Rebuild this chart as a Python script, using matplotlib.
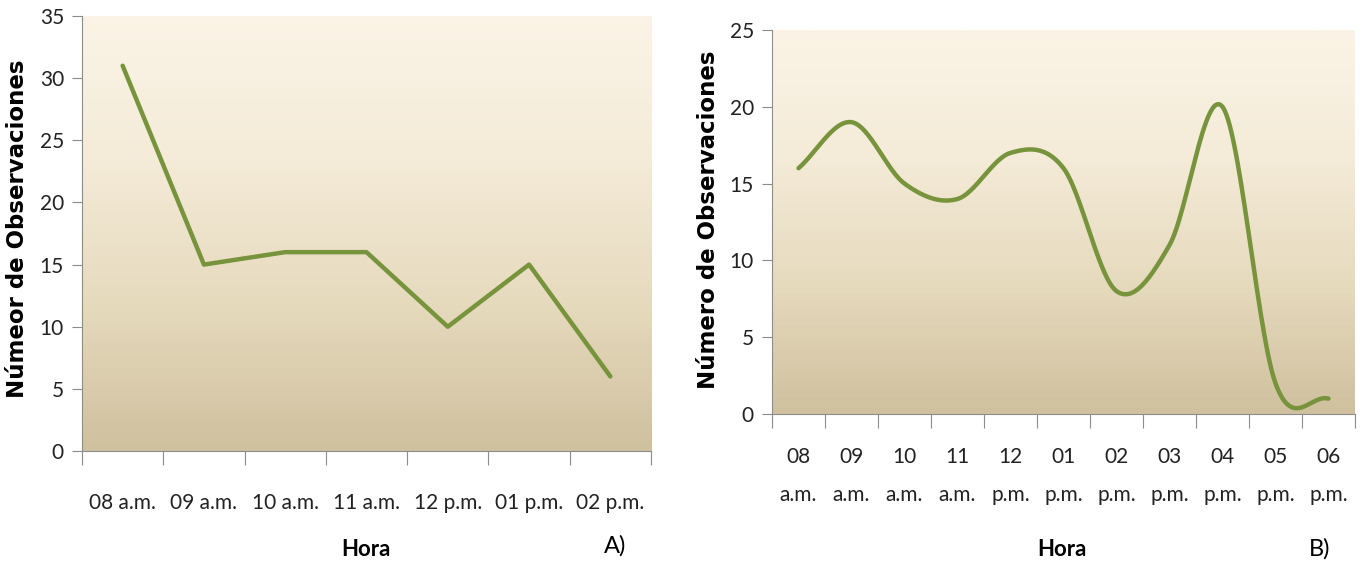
import numpy as np
import matplotlib.pyplot as plt
from matplotlib.colors import LinearSegmentedColormap

# Datos: observaciones por hora
horas_a = ['08 a.m.', '09 a.m.', '10 a.m.', '11 a.m.', '12 p.m.', '01 p.m.', '02 p.m.']
obs_a = [31, 15, 16, 16, 10, 15, 6]

horas_b = ['08\na.m.', '09\na.m.', '10\na.m.', '11\na.m.', '12\np.m.', '01\np.m.',
           '02\np.m.', '03\np.m.', '04\np.m.', '05\np.m.', '06\np.m.']
obs_b = [16, 19, 15, 14, 17, 16, 8, 11, 20, 2, 1]

fuente = 'Lato'
verde = '#77933C'
gris = '#8c8c8c'
fondo = LinearSegmentedColormap.from_list('fondo', ['#CFC09E', '#E6DABD', '#F4EBD8', '#FBF4E6'])


def curva_suave(x, y, n=30):
    # spline tipo Catmull-Rom, parecido al suavizado de Excel
    x = np.asarray(x, float)
    y = np.asarray(y, float)
    px = np.concatenate([[2 * x[0] - x[1]], x, [2 * x[-1] - x[-2]]])
    py = np.concatenate([[2 * y[0] - y[1]], y, [2 * y[-1] - y[-2]]])
    xs, ys = [], []
    t = np.linspace(0, 1, n)
    k = 1 / 6
    for i in range(1, len(px) - 2):
        p0, p1, p2, p3 = py[i - 1], py[i], py[i + 1], py[i + 2]
        q0, q1, q2, q3 = px[i - 1], px[i], px[i + 1], px[i + 2]
        c1y, c2y = p1 + (p2 - p0) * k, p2 - (p3 - p1) * k
        c1x, c2x = q1 + (q2 - q0) * k, q2 - (q3 - q1) * k
        ys.append((1 - t) ** 3 * p1 + 3 * (1 - t) ** 2 * t * c1y + 3 * (1 - t) * t ** 2 * c2y + t ** 3 * p2)
        xs.append((1 - t) ** 3 * q1 + 3 * (1 - t) ** 2 * t * c1x + 3 * (1 - t) * t ** 2 * c2x + t ** 3 * q2)
    return np.concatenate(xs), np.concatenate(ys)


def preparar(ax, n, ymax, paso, etiquetas, pad):
    ax.imshow(np.linspace(0, 1, 256).reshape(-1, 1), cmap=fondo, origin='lower',
              aspect='auto', extent=[0, 1, 0, 1], transform=ax.transAxes, zorder=0)
    ax.set_xlim(0, n)
    ax.set_ylim(0, ymax)
    ax.set_yticks(np.arange(0, ymax + 1, paso))
    ax.set_xticks(np.arange(n + 1))
    ax.set_xticklabels([])
    ax.set_xticks(np.arange(n) + 0.5, minor=True)
    ax.set_xticklabels(etiquetas, minor=True)
    for s in ['top', 'right']:
        ax.spines[s].set_visible(False)
    for s in ['left', 'bottom']:
        ax.spines[s].set_color(gris)
    ax.tick_params(axis='y', direction='out', length=7, color=gris, labelsize=15, pad=6)
    ax.tick_params(axis='x', which='major', direction='out', length=10, color=gris)
    ax.tick_params(axis='x', which='minor', length=0, labelsize=15, pad=pad)
    for lab in ax.get_yticklabels() + ax.get_xticklabels(minor=True):
        lab.set_fontfamily(fuente)
        lab.set_color('#222222')


fig = plt.figure(figsize=(13.62, 5.65), dpi=100)

# Panel A
ax1 = fig.add_axes([82 / 1362, 114 / 565, 569 / 1362, 435 / 565])
preparar(ax1, len(horas_a), 35, 5, horas_a, 30)
ax1.plot(np.arange(len(obs_a)) + 0.5, obs_a, color=verde, lw=3.2, solid_capstyle='round',
         solid_joinstyle='round', zorder=3)
fig.text(18 / 1362, 1 - 229 / 565, 'Númeor de Observaciones', rotation=90, ha='center',
         va='center', fontsize=16.5, fontweight='bold', family='DejaVu Sans')
fig.text(366 / 1362, 1 - 549 / 565, 'Hora', ha='center', va='center', fontsize=16,
         fontweight='bold', family=fuente)
fig.text(615 / 1362, 1 - 546 / 565, 'A)', ha='center', va='center', fontsize=17, family=fuente)

# Panel B
ax2 = fig.add_axes([772 / 1362, 151 / 565, 583 / 1362, 384 / 565])
preparar(ax2, len(horas_b), 25, 5, horas_b, 24)
for lab in ax2.get_xticklabels(minor=True):
    lab.set_linespacing(2.1)
xs, ys = curva_suave(np.arange(len(obs_b)) + 0.5, obs_b)
ax2.plot(xs, ys, color=verde, lw=3.2, solid_capstyle='round', zorder=3)
fig.text(708 / 1362, 1 - 220 / 565, 'Número de Observaciones', rotation=90, ha='center',
         va='center', fontsize=16.5, fontweight='bold', family='DejaVu Sans')
fig.text(1062 / 1362, 1 - 549 / 565, 'Hora', ha='center', va='center', fontsize=16,
         fontweight='bold', family=fuente)
fig.text(1320 / 1362, 1 - 549 / 565, 'B)', ha='center', va='center', fontsize=17, family=fuente)

fig.savefig('out.png', dpi=100)
